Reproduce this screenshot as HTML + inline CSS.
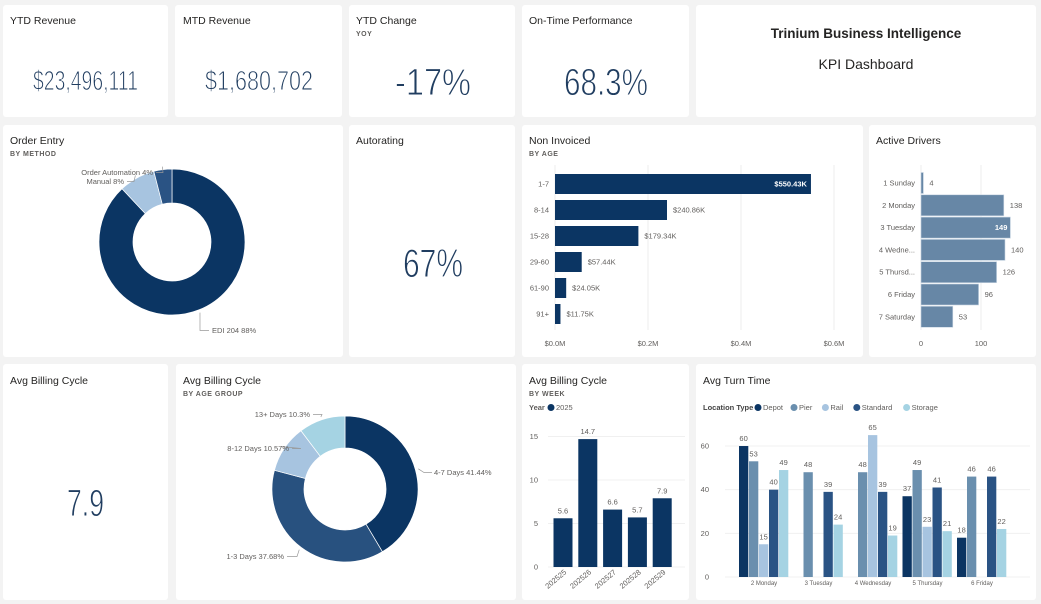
<!DOCTYPE html>
<html><head><meta charset="utf-8"><style>
html,body{margin:0;padding:0;background:#f3f3f3;}
svg{display:block;font-family:"Liberation Sans",sans-serif;}
.t{font-size:10.5px;fill:#252423;}
.s{font-size:7px;fill:#605e5c;font-weight:bold;letter-spacing:.5px;}
.lb{font-size:7.5px;fill:#605e5c;}
.kpi{fill:#203d60;font-family:"Liberation Sans Narrow","Liberation Sans",sans-serif;stroke:#fff;stroke-width:0.9px;}
</style></head><body>
<svg id="c" width="1041" height="604" viewBox="0 0 1041 604">
<rect width="1041" height="604" fill="#f3f3f3"/>
<g fill="#fff">
<rect x="3" y="5" width="165" height="112" rx="3"/>
<rect x="175" y="5" width="167" height="112" rx="3"/>
<rect x="349" y="5" width="166" height="112" rx="3"/>
<rect x="522" y="5" width="167" height="112" rx="3"/>
<rect x="696" y="5" width="340" height="112" rx="3"/>
<rect x="3" y="125" width="340" height="232" rx="3"/>
<rect x="349" y="125" width="166" height="232" rx="3"/>
<rect x="522" y="125" width="341" height="232" rx="3"/>
<rect x="869" y="125" width="167" height="232" rx="3"/>
<rect x="3" y="364" width="165" height="236" rx="3"/>
<rect x="176" y="364" width="340" height="236" rx="3"/>
<rect x="522" y="364" width="167" height="236" rx="3"/>
<rect x="696" y="364" width="340" height="236" rx="3"/>
</g>
<text class="t" x="10" y="24">YTD Revenue</text>
<text class="t" x="183" y="24">MTD Revenue</text>
<text class="t" x="356" y="24">YTD Change</text>
<text class="s" x="356" y="36">YOY</text>
<text class="t" x="529" y="24">On-Time Performance</text>
<text class="kpi" x="33" y="90" font-size="28" textLength="105" lengthAdjust="spacingAndGlyphs">$23,496,111</text>
<text class="kpi" x="205" y="90" font-size="28" textLength="108" lengthAdjust="spacingAndGlyphs">$1,680,702</text>
<text class="kpi" x="395" y="95" font-size="38" textLength="76" lengthAdjust="spacingAndGlyphs">-17%</text>
<text class="kpi" x="564" y="95" font-size="38" textLength="84" lengthAdjust="spacingAndGlyphs">68.3%</text>
<text x="866" y="38" text-anchor="middle" font-size="13.5" font-weight="bold" fill="#252423">Trinium Business Intelligence</text>
<text x="866" y="69" text-anchor="middle" font-size="14" fill="#252423">KPI Dashboard</text>
<text class="t" x="10" y="144">Order Entry</text>
<text class="s" x="10" y="156">BY METHOD</text>
<text class="t" x="356" y="144">Autorating</text>
<text class="kpi" x="403" y="277" font-size="40" textLength="60" lengthAdjust="spacingAndGlyphs">67%</text>
<text class="t" x="529" y="144">Non Invoiced</text>
<text class="s" x="529" y="156">BY AGE</text>
<text class="t" x="876" y="144">Active Drivers</text>
<text class="t" x="10" y="384">Avg Billing Cycle</text>
<text class="kpi" x="67" y="516" font-size="38" textLength="37" lengthAdjust="spacingAndGlyphs">7.9</text>
<text class="t" x="183" y="384">Avg Billing Cycle</text>
<text class="s" x="183" y="396">BY AGE GROUP</text>
<text class="t" x="529" y="384">Avg Billing Cycle</text>
<text class="s" x="529" y="396">BY WEEK</text>
<text class="lb" x="529" y="410" font-weight="bold">Year</text>
<circle cx="551" cy="407.5" r="3.5" fill="#0b3563"/>
<text class="lb" x="556" y="410">2025</text>
<text class="t" x="703" y="384">Avg Turn Time</text>
<g id="g"></g>
</svg>
<script>
// ---- data ----
const orderLabels=["EDI 204 88%","Manual 8%","Order Automation 4%"];
const orderValues=[88,8,4];
const ageLabels=["4-7 Days 41.44%","1-3 Days 37.68%","8-12 Days 10.57%","13+ Days 10.3%"];
const ageValues=[41.44,37.68,10.57,10.3];
const niCats=["1-7","8-14","15-28","29-60","61-90","91+"];
const niValues=[550.43,240.86,179.34,57.44,24.05,11.75];
const niLabels=["$550.43K","$240.86K","$179.34K","$57.44K","$24.05K","$11.75K"];
const niTicks=[0,0.2,0.4,0.6];
const niTickLabels=["$0.0M","$0.2M","$0.4M","$0.6M"];
const drvCats=["1 Sunday","2 Monday","3 Tuesday","4 Wedne...","5 Thursd...","6 Friday","7 Saturday"];
const drvValues=[4,138,149,140,126,96,53];
const drvTicks=[0,100];
const wkCats=["202525","202526","202527","202528","202529"];
const wkValues=[5.6,14.7,6.6,5.7,7.9];
const wkTicks=[0,5,10,15];
const ttCats=["2 Monday","3 Tuesday","4 Wednesday","5 Thursday","6 Friday"];
const ttSeries=["Depot","Pier","Rail","Standard","Storage"];
const ttDepot=[60,null,null,37,18];
const ttPier=[53,48,48,49,46];
const ttRail=[15,null,65,23,null];
const ttStandard=[40,39,39,41,46];
const ttStorage=[49,24,19,21,22];
const ttTicks=[0,20,40,60];

const NS="http://www.w3.org/2000/svg",G=document.getElementById('g');
function el(t,a,txt,p){const e=document.createElementNS(NS,t);for(const k in a)e.setAttribute(k,a[k]);if(txt!=null)e.textContent=txt;(p||G).appendChild(e);return e;}
function lab(x,y,s,anchor,extra){const e=el('text',Object.assign({x:x,y:y,'font-size':7.5,fill:'#605e5c','text-anchor':anchor||'start'},extra||{}),s);return e;}

// ---- donuts ----
function donut(cx,cy,R,r,vals,cols,labels,name,labelPos){
  const tot=vals.reduce((a,b)=>a+b,0);let a0=-Math.PI/2;
  vals.forEach((v,i)=>{const a1=a0+v/tot*2*Math.PI;const lg=(a1-a0)>Math.PI?1:0;
    const p=`M${cx+R*Math.cos(a0)},${cy+R*Math.sin(a0)}A${R},${R} 0 ${lg} 1 ${cx+R*Math.cos(a1)},${cy+R*Math.sin(a1)}L${cx+r*Math.cos(a1)},${cy+r*Math.sin(a1)}A${r},${r} 0 ${lg} 0 ${cx+r*Math.cos(a0)},${cy+r*Math.sin(a0)}Z`;
    const s=el('path',{d:p,fill:cols[i],stroke:'#fff','stroke-width':0.7});
    
    
    const am=(a0+a1)/2,ex=cx+(R+3)*Math.cos(am),ey=cy+(R+3)*Math.sin(am);
    const lp=labelPos[i];
    el('path',{d:`M${ex},${ey}L${lp[2]},${lp[1]-2.5}L${lp[3]},${lp[1]-2.5}`,fill:'none',stroke:'#999','stroke-width':0.7});
    const t=lab(lp[0],lp[1],labels[i],lp[4]);
    
    
    a0=a1;});
}
donut(172,242,73,39,orderValues,['#0b3563','#a7c4e0','#2a5384'],orderLabels,'order-entry',
 [[212,333,200,209,'start'],[124,184,134,127,'end'],[153,175,163,156,'end']]);
donut(345,489,73,41,ageValues,['#0b3563','#28517f','#a7c4e0','#a5d3e3'],ageLabels,'billing-age',
 [[434,475,424,432,'start'],[284,559,297,287,'end'],[289,451,301,292,'end'],[310,417,322,313,'end']]);

// ---- non invoiced ----
const niX=v=>555+v/1000*465, niY=i=>184+i*26;
niTicks.forEach((t,i)=>{const x=555+t*465;el('line',{x1:x,x2:x,y1:165,y2:330,stroke:'#eee'});
  const e=lab(x,346,niTickLabels[i],'middle');});
niCats.forEach((c,i)=>{const y=niY(i),w=niX(niValues[i])-555;
  const b=el('rect',{x:555,y:y-10,width:w,height:20,fill:'#0b3563'});
  
  
  lab(549,y+2.5,c,'end');
  if(i==0)lab(555+w-4,y+2.5,niLabels[i],'end',{fill:'#fff','font-weight':'bold'});
  else lab(555+w+6,y+2.5,niLabels[i],'start');});

// ---- active drivers ----
const dX=v=>921+v*0.6, dY=i=>183+i*22.3;
drvTicks.forEach(t=>{el('line',{x1:dX(t),x2:dX(t),y1:165,y2:330,stroke:'#eee'});
  const e=lab(dX(t),346,String(t),'middle');});
drvCats.forEach((c,i)=>{const y=dY(i),w=dX(drvValues[i])-921;
  const b=el('rect',{x:921,y:y-10.5,width:w,height:21,fill:'#6787a6',stroke:'#c9d6e3','stroke-width':0.6});
  
  
  lab(915,y+2.5,c,'end');
  if(i==2)lab(921+w-3,y+2.5,String(drvValues[i]),'end',{fill:'#fff','font-weight':'bold'});
  else lab(921+w+6,y+2.5,String(drvValues[i]),'start');});

// ---- billing by week ----
const wY=v=>567-v*8.7, wX=i=>563+i*24.8;
wkTicks.forEach(t=>{el('line',{x1:548,x2:685,y1:wY(t),y2:wY(t),stroke:'#f0f0f0'});
  const e=lab(538,wY(t)+2.5,String(t),'end');});
wkCats.forEach((c,i)=>{const x=wX(i),y=wY(wkValues[i]);
  const b=el('rect',{x:x-9.5,y:y,width:19,height:567-y,fill:'#0b3563'});
  
  
  lab(x,y-5,String(wkValues[i]),'middle');
  const t=lab(x+4,573,c,'end',{transform:`rotate(-40 ${x+4} 573)`});
  
  });

// ---- avg turn time ----
const tCols=['#0b3563','#6a8fae','#a7c4e0','#2a5384','#a5d3e3'];
const ttData=[ttDepot,ttPier,ttRail,ttStandard,ttStorage];
lab(703,410,'Location Type','start',{'font-weight':'bold',fill:'#444'});
let lx=755;
ttSeries.forEach((s,i)=>{const d=el('circle',{cx:lx+3,cy:407.5,r:3.5,fill:tCols[i]});
  
  
  const t=lab(lx+8,410,s,'start');
  
  
  lx+=8+s.length*4.6+5;});
const tY=v=>577-v*2.183, tX=(g,k)=>739+g*54.5+k*10;
ttTicks.forEach(t=>{el('line',{x1:725,x2:1030,y1:tY(t),y2:tY(t),stroke:'#f0f0f0'});
  const e=lab(709,tY(t)+2.5,String(t),'end');});
ttCats.forEach((c,g)=>{
  ttData.forEach((ser,k)=>{const v=ser[g];if(v==null)return;const x=tX(g,k),y=tY(v);
    const b=el('rect',{x:x,y:y,width:9.3,height:577-y,fill:tCols[k]});
    
    
    lab(x+4.6,y-5,String(v),'middle');});
  const t=lab(tX(g,0)+25,585,c,'middle',{'font-size':6});
  
  });
</script>
</body></html>
